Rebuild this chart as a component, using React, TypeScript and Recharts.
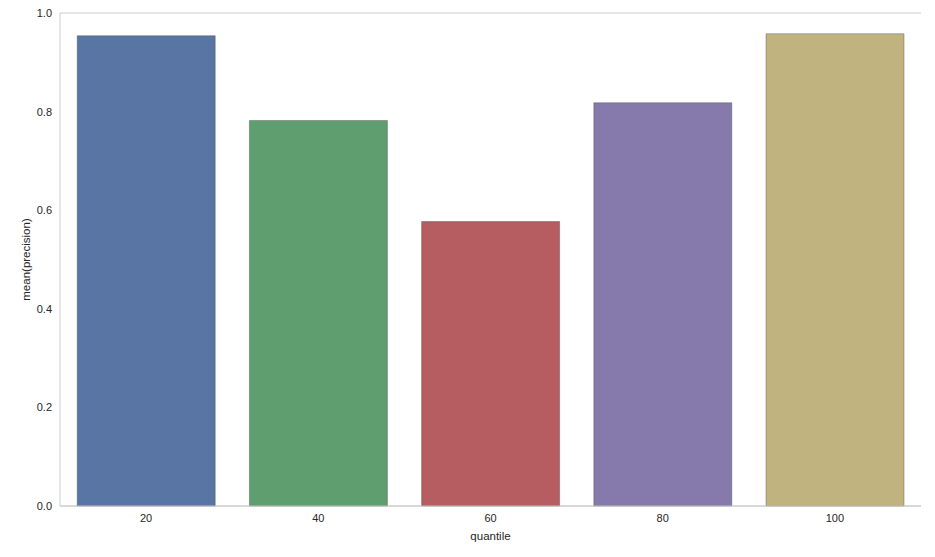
import React from "react";
import { BarChart, Bar, XAxis, YAxis, CartesianGrid, Cell } from "recharts";

const categories = ["20", "40", "60", "80", "100"];
const precision = [0.954, 0.782, 0.577, 0.818, 0.958];
const yTicks = [0, 0.2, 0.4, 0.6, 0.8, 1.0];
const colors = ["#5875a4", "#5f9e6e", "#b55d60", "#857aab", "#c1b37f"];

const data = categories.map((q, i) => ({ quantile: q, value: precision[i] }));

const FONT = "'Liberation Sans', Arial, sans-serif";
const TEXT = "#262626";
const GRID = "#cccccc";

export default function App() {
  return (
    <div style={{ position: "absolute", left: 0, top: 0 }}>
      <BarChart
        width={935}
        height={557}
        data={data}
        margin={{ top: 13, right: 14, bottom: 0, left: 0 }}
        barCategoryGap="10%"
        style={{ fontFamily: FONT }}
      >
        <CartesianGrid vertical={false} stroke={GRID} strokeWidth={1} />
        <XAxis
          dataKey="quantile"
          xAxisId="bottom"
          height={51}
          tickLine={false}
          axisLine={{ stroke: GRID }}
          tick={{ fill: TEXT, fontSize: 11, fontFamily: FONT }}
          label={{
            value: "quantile",
            position: "insideBottom",
            offset: 17,
            style: { fill: TEXT, fontSize: 11.5, fontFamily: FONT },
          }}
        />
        <XAxis
          dataKey="quantile"
          xAxisId="top"
          orientation="top"
          height={0}
          tick={false}
          tickLine={false}
          axisLine={{ stroke: GRID }}
        />
        <YAxis
          yAxisId="left"
          width={60}
          domain={[0, 1]}
          ticks={yTicks}
          tickFormatter={(v: number) => v.toFixed(1)}
          tickLine={false}
          axisLine={{ stroke: GRID }}
          tick={{ fill: TEXT, fontSize: 11, fontFamily: FONT }}
          label={{
            value: "mean(precision)",
            angle: -90,
            position: "insideLeft",
            offset: 26,
            style: { fill: TEXT, fontSize: 11.5, fontFamily: FONT, textAnchor: "middle" },
          }}
        />
        <YAxis
          yAxisId="right"
          orientation="right"
          width={0}
          domain={[0, 1]}
          tick={false}
          tickLine={false}
          axisLine={{ stroke: GRID }}
        />
        <Bar
          dataKey="value"
          xAxisId="bottom"
          yAxisId="left"
          isAnimationActive={false}
          stroke="rgba(60,60,60,0.35)"
          strokeWidth={1}
        >
          {data.map((d, i) => (
            <Cell key={d.quantile} fill={colors[i]} />
          ))}
        </Bar>
      </BarChart>
    </div>
  );
}
